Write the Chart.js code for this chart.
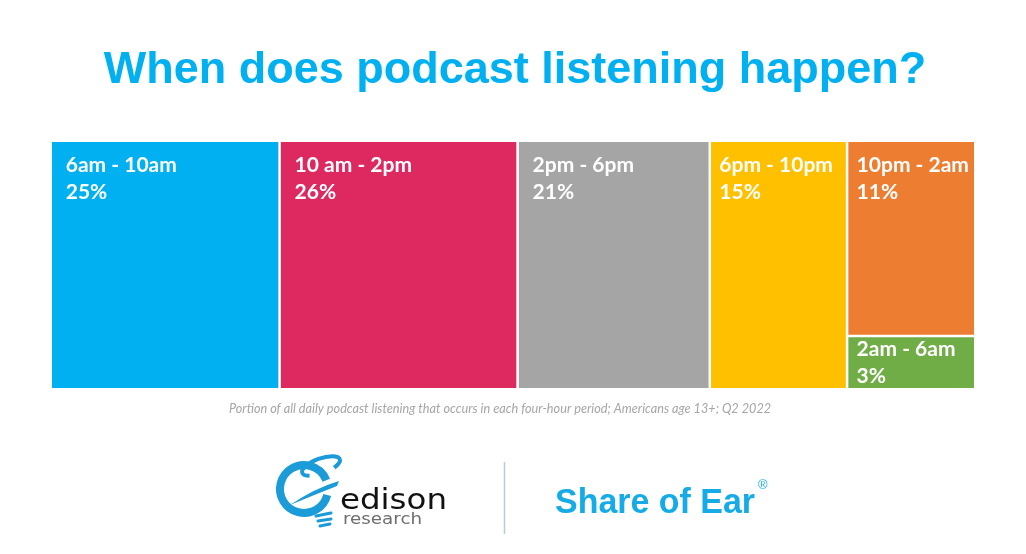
<!DOCTYPE html>
<html><head><meta charset="utf-8">
<script src="https://cdn.jsdelivr.net/npm/chart.js@4.4.0/dist/chart.umd.min.js"></script>
<style>html,body{margin:0;padding:0;background:#fff;}#wrap{width:1026px;height:554px;}</style>
</head><body><div id="wrap"><canvas id="c" width="1026" height="554"></canvas></div>
<script>
// ---- data ----
const periods = ['6am - 10am', '10 am - 2pm', '2pm - 6pm', '6pm - 10pm', '10pm - 2am', '2am - 6am'];
const shares = [25, 26, 21, 15, 11, 3];
const shareLabels = ['25%', '26%', '21%', '15%', '11%', '3%'];
const columnOf = [0, 1, 2, 3, 4, 4]; // treemap column each period sits in
const colors = ['#00B0F0', '#DE2960', '#A5A5A5', '#FFC000', '#ED7D31', '#70AD47'];
const titleText = 'When does podcast listening happen?';
const noteText = 'Portion of all daily podcast listening that occurs in each four-hour period; Americans age 13+; Q2 2022';

// ---- treemap layout from the values (column widths & stacked heights) ----
const nCols = Math.max(...columnOf) + 1;
const colSum = Array(nCols).fill(0);
shares.forEach((v, i) => colSum[columnOf[i]] += v);
const colStart = [];
let acc = 0;
for (let c = 0; c < nCols; c++) { colStart.push(acc); acc += colSum[c]; }
const total = acc;
const usedInCol = Array(nCols).fill(0);
const tiles = shares.map((v, i) => {
  const c = columnOf[i];
  const top = 1 - usedInCol[c] / colSum[c];
  usedInCol[c] += v;
  const bottom = 1 - usedInCol[c] / colSum[c];
  const x0 = colStart[c], x1 = colStart[c] + colSum[c];
  return { x: (x0 + x1) / 2, y: [bottom, top], x0, x1 };
});

// plugin: give each tile its true width via the x scale
const tileWidth = {
  id: 'tileWidth',
  afterDatasetsUpdate(chart) {
    const xs = chart.scales.x;
    chart.data.datasets.forEach((ds, di) => {
      chart.getDatasetMeta(di).data.forEach((el, i) => {
        const r = ds.data[i];
        const p0 = xs.getPixelForValue(r.x0), p1 = xs.getPixelForValue(r.x1);
        el.x = (p0 + p1) / 2;
        el.width = p1 - p0;
      });
    });
  }
};

const tileLabels = {
  id: 'tileLabels',
  afterDatasetsDraw(chart) {
    const ctx = chart.ctx;
    const meta = chart.getDatasetMeta(0);
    ctx.save();
    ctx.fillStyle = '#fff';
    ctx.font = 'bold 21px Lato';
    ctx.textAlign = 'left';
    ctx.textBaseline = 'alphabetic';
    meta.data.forEach((el, i) => {
      const left = el.x - el.width / 2;
      const top = Math.min(el.y, el.base);
      const h = Math.abs(el.base - el.y);
      const padX = el.width > 150 ? 15 : 9.5;
      const base = top + (h > 100 ? 31.5 : 20);
      ctx.fillText(periods[i], left + padX, base);
      ctx.fillText(shareLabels[i], left + padX, base + 26.5);
    });
    ctx.restore();
  }
};

function fitText(ctx, txt, x, y, w) {
  const m = ctx.measureText(txt).width;
  ctx.save();
  ctx.translate(x, y);
  ctx.scale(w / m, 1);
  ctx.fillText(txt, 0, 0);
  ctx.restore();
}

const decor = {
  id: 'decor',
  afterDraw(chart) {
    const ctx = chart.ctx;
    ctx.save();
    // title
    ctx.fillStyle = '#00B0F0';
    ctx.font = 'bold 45px "Liberation Sans"';
    ctx.textAlign = 'center';
    ctx.textBaseline = 'alphabetic';
    ctx.fillText(titleText, 515, 83);
    // footnote
    ctx.fillStyle = '#A6A6A6';
    ctx.font = 'italic 12.7px Lato';
    ctx.fillText(noteText, 500, 413);
    // separator
    ctx.strokeStyle = '#BCCBD6';
    ctx.lineWidth = 1.5;
    ctx.beginPath(); ctx.moveTo(504.5, 462); ctx.lineTo(504.5, 534); ctx.stroke();
    // Share of Ear
    ctx.textAlign = 'left';
    ctx.fillStyle = '#14ABE6';
    ctx.font = 'bold 35px "Liberation Sans"';
    fitText(ctx, 'Share of Ear', 555, 512.5, 200);
    ctx.font = '13px "Liberation Sans"';
    ctx.fillText('®', 758, 489);
    // edison logo mark
    const blue = '#1B9BD8';
    ctx.strokeStyle = blue; ctx.fillStyle = blue;
    ctx.lineWidth = 8;
    ctx.beginPath(); ctx.arc(304, 489, 24, 0.08 * Math.PI, 1.88 * Math.PI); ctx.stroke();
    // orbit
    ctx.lineWidth = 4;
    ctx.beginPath(); ctx.ellipse(321, 466, 20, 7.5, -0.35, Math.PI * 0.75, Math.PI * 2.3); ctx.stroke();
    // swoosh
    ctx.beginPath();
    ctx.moveTo(290, 505); ctx.quadraticCurveTo(315, 488, 339, 481);
    ctx.lineTo(337, 486); ctx.quadraticCurveTo(314, 495, 290, 505);
    ctx.fill();
    // bulb base
    ctx.lineCap = 'round';
    ctx.lineWidth = 3;
    [[316, 516, 331, 513], [318, 521, 331, 519], [320, 526, 330, 524]].forEach(s => {
      ctx.beginPath(); ctx.moveTo(s[0], s[1]); ctx.lineTo(s[2], s[3]); ctx.stroke();
    });
    // edison / research words
    ctx.fillStyle = '#111';
    ctx.font = '29px "DejaVu Sans"';
    fitText(ctx, 'edison', 340, 509, 107);
    ctx.fillStyle = '#6E6E6E';
    ctx.font = '15px "DejaVu Sans"';
    fitText(ctx, 'research', 343, 524, 79);
    ctx.restore();
  }
};

new Chart(document.getElementById('c'), {
  type: 'bar',
  data: {
    datasets: [{
      data: tiles,
      backgroundColor: colors,
      borderColor: '#ffffff',
      borderWidth: 1.25,
      borderSkipped: false
    }]
  },
  options: {
    responsive: false,
    devicePixelRatio: 1,
    animation: false,
    layout: { padding: { left: 50.75, right: 50.75, top: 140.75, bottom: 164.75 } },
    scales: {
      x: { type: 'linear', min: 0, max: total, offset: false, display: false },
      y: { type: 'linear', min: 0, max: 1, display: false }
    },
    plugins: { legend: { display: false }, tooltip: { enabled: false }, title: { display: false } }
  },
  plugins: [tileWidth, tileLabels, decor]
});
</script>
</body></html>
